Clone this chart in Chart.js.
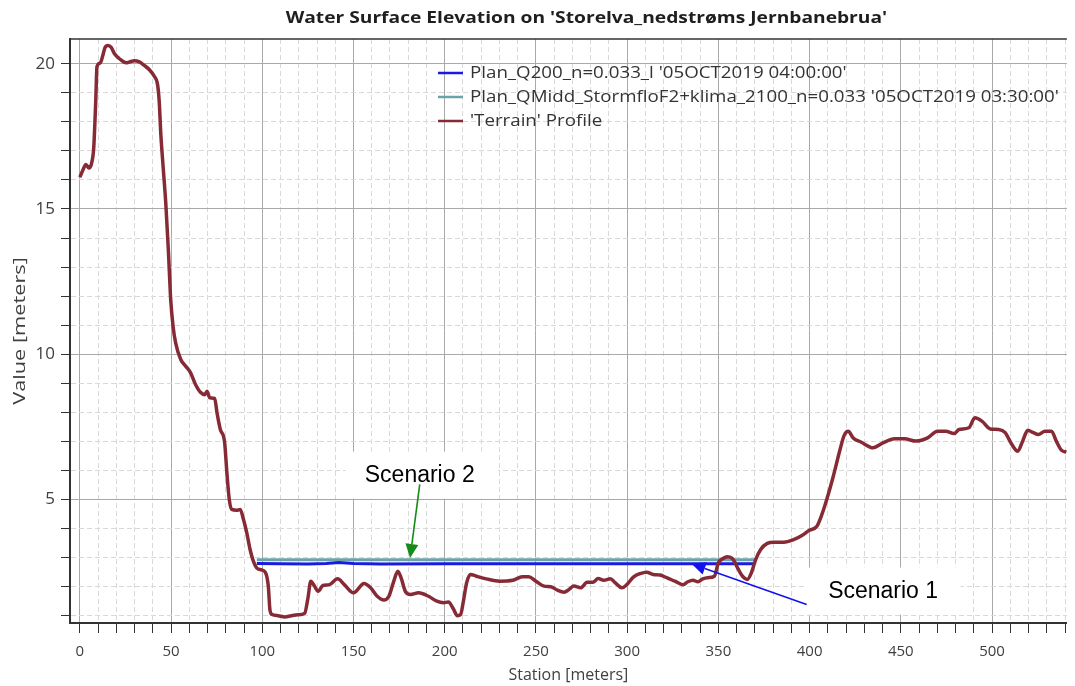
<!DOCTYPE html>
<html>
<head>
<meta charset="utf-8">
<script src="https://cdn.jsdelivr.net/npm/chart.js@4/dist/chart.umd.min.js"></script>
<style>
html,body{margin:0;padding:0;background:#fff;}
#wrap{width:1075px;height:686px;}
</style>
</head>
<body>
<div id="wrap"><canvas id="c" width="1075" height="686"></canvas></div>
<script>
// ---------- data ----------
const chartTitle = "Water Surface Elevation on 'Storelva_nedstrøms Jernbanebrua'";
const seriesLabels = [
  "Plan_Q200_n=0.033_l '05OCT2019 04:00:00'",
  "Plan_QMidd_StormfloF2+klima_2100_n=0.033 '05OCT2019 03:30:00'",
  "'Terrain' Profile"
];
const xTitle = "Station [meters]";
const yTitle = "Value [meters]";

const q200Station = [97, 110, 125, 135, 142, 150, 165, 200, 250, 300, 350, 370];
const q200Elev    = [2.80, 2.79, 2.78, 2.80, 2.83, 2.80, 2.78, 2.79, 2.79, 2.79, 2.79, 2.79];

const qmiddStation = [97, 150, 200, 250, 300, 350, 370];
const qmiddElev    = [2.93, 2.93, 2.93, 2.93, 2.93, 2.93, 2.93];

const terrainStation = [0, 1.8, 3.3, 5, 6.5, 7.6, 8.7, 9.4, 11.2, 12.7, 13.8, 15.4, 17.2, 19, 21.7, 25.4, 27.2, 29.9, 32.6, 35.3, 38, 40.8, 42.6, 43.5, 44.4, 45.7, 47.1, 48.5, 49.8, 51.1, 52.5, 55.3, 58, 60.7, 63.4, 66.1, 68.5, 69.7, 71.2, 73.9, 75.2, 77, 79.3, 80.6, 81.9, 83.3, 86, 87.9, 89.7, 91.5, 93.3, 95.1, 96.9, 99.6, 101.8, 103.3, 104.2, 105.4, 108.7, 112.3, 115.9, 119.6, 123.2, 125, 126.6, 128.6, 130.6, 133.2, 136.8, 141.3, 145, 150, 155.8, 159.4, 163, 166.7, 169.4, 172.1, 174.3, 176.1, 178.4, 181.2, 185.7, 191.1, 195.7, 199.3, 202, 204.7, 206.9, 208.7, 210.1, 212, 214.1, 217.4, 222.8, 230.1, 237.3, 242.5, 246, 250, 254.5, 258.2, 261.8, 265.4, 268.1, 270.8, 274.5, 278.1, 281.2, 284.1, 287.1, 290.8, 293.5, 297.1, 299.8, 303.4, 307.1, 310.7, 314.3, 318, 321.6, 326.1, 330.6, 333.3, 336.1, 338.8, 341.5, 344.2, 347.8, 350, 352.3, 355.1, 357.8, 360.5, 363.2, 365.9, 368.1, 370.5, 373.2, 376.8, 380.4, 385.9, 391.3, 395.8, 399.5, 404, 406.7, 409.4, 413, 416.7, 418.9, 421.2, 423.9, 428.4, 434.8, 440.2, 446.6, 452, 458.3, 464.7, 470.1, 474.6, 479.2, 481.9, 487.3, 490.6, 494.6, 499.1, 503.6, 507.2, 510.9, 514.1, 516.7, 519.6, 522.7, 525.4, 529, 532.6, 535.3, 538, 540.8];
const terrainElev = [16.09, 16.36, 16.53, 16.41, 16.59, 17.1, 18.7, 19.9, 20.03, 20.31, 20.56, 20.63, 20.56, 20.34, 20.17, 20.03, 20.06, 20.1, 20.06, 19.94, 19.8, 19.57, 19.28, 18.7, 17.56, 16.41, 15.2, 13.6, 11.88, 10.96, 10.39, 9.82, 9.59, 9.36, 8.96, 8.69, 8.61, 8.73, 8.5, 8.48, 7.98, 7.41, 7.0, 5.92, 5.0, 4.66, 4.63, 4.66, 4.31, 3.85, 3.28, 2.88, 2.65, 2.58, 2.48, 2.02, 1.2, 1.04, 1.0, 0.96, 1.0, 1.03, 1.08, 1.6, 2.19, 2.02, 1.84, 2.04, 2.07, 2.27, 2.07, 1.79, 2.11, 1.96, 1.67, 1.54, 1.67, 2.19, 2.53, 2.3, 1.84, 1.73, 1.79, 1.67, 1.5, 1.45, 1.47, 1.24, 1.0, 1.04, 1.45, 2.13, 2.42, 2.36, 2.27, 2.19, 2.22, 2.34, 2.34, 2.19, 2.02, 2.0, 1.88, 1.81, 1.9, 2.02, 1.96, 2.15, 2.15, 2.28, 2.22, 2.27, 2.13, 1.96, 2.07, 2.33, 2.45, 2.5, 2.42, 2.4, 2.31, 2.19, 2.07, 2.17, 2.22, 2.17, 2.27, 2.31, 2.36, 2.82, 2.96, 3.03, 2.96, 2.65, 2.36, 2.25, 2.48, 2.94, 3.28, 3.49, 3.53, 3.53, 3.62, 3.76, 3.93, 4.08, 4.48, 5.0, 5.8, 6.72, 7.2, 7.35, 7.12, 6.97, 6.78, 6.95, 7.09, 7.09, 7.01, 7.12, 7.35, 7.35, 7.27, 7.41, 7.47, 7.81, 7.69, 7.43, 7.41, 7.3, 6.89, 6.66, 7.0, 7.38, 7.3, 7.24, 7.35, 7.35, 7.0, 6.7, 6.63];

const xMajorTickLabels = [0, 50, 100, 150, 200, 250, 300, 350, 400, 450, 500];
const yMajorTickLabels = [5, 10, 15, 20];
const annotationLabels = ["Scenario 2", "Scenario 1"];

// ---------- helpers / styling ----------
const toXY = (xs, ys) => xs.map((x, i) => ({x: x, y: ys[i]}));
const X_MIN = -5.4, X_MAX = 541, X_STEP = 10;
const Y_MIN = 0.75, Y_MAX = 20.85, Y_STEP = 1;
const isMajorX = v => xMajorTickLabels.includes(v);
const isMajorY = v => yMajorTickLabels.includes(v);
const UI_FONT = '"Open Sans", "Noto Sans", sans-serif';

// annotation placement in data units (station, elevation)
const annotationSpecs = [
  {label: annotationLabels[0], box: [145.7, 6.65, 229.3, 5.03], textAt: [186.3, 5.83], from: [186.3, 5.52], to: [181.0, 2.99], color: '#178a17'},
  {label: annotationLabels[1], box: [398.4, 2.66, 482.6, 1.04], textAt: [440.3, 1.83], from: [398.4, 1.39], to: [335.3, 2.79], color: '#1212ee'}
];

function stretchedText(ctx, text, x, y, sx, rot) {
  ctx.save();
  ctx.translate(x, y);
  if (rot) ctx.rotate(rot);
  ctx.scale(sx, 1);
  ctx.fillText(text, 0, 0);
  ctx.restore();
}

const extrasPlugin = {
  id: 'extras',
  afterDatasetsDraw(chart) {
    const ctx = chart.ctx, xs = chart.scales.x, ys = chart.scales.y;
    const px = (a) => ({x: xs.getPixelForValue(a[0]), y: ys.getPixelForValue(a[1])});
    ctx.save();
    annotationSpecs.forEach(a => {
      const p1 = px([a.box[0], a.box[1]]), p2 = px([a.box[2], a.box[3]]);
      ctx.fillStyle = '#ffffff';
      ctx.fillRect(p1.x, p1.y, p2.x - p1.x, p2.y - p1.y);
      const t = px(a.textAt);
      ctx.fillStyle = '#000000';
      ctx.font = '23px "Liberation Sans", Arial, sans-serif';
      ctx.textAlign = 'center';
      ctx.textBaseline = 'middle';
      ctx.fillText(a.label, t.x, t.y);
      // arrow
      const s = px(a.from), e = px(a.to);
      const ang = Math.atan2(e.y - s.y, e.x - s.x);
      const hl = 14, hw = 6.5;
      const bx = e.x - hl * Math.cos(ang), by = e.y - hl * Math.sin(ang);
      ctx.strokeStyle = a.color; ctx.fillStyle = a.color; ctx.lineWidth = 1.6;
      ctx.beginPath(); ctx.moveTo(s.x, s.y); ctx.lineTo(bx, by); ctx.stroke();
      ctx.beginPath();
      ctx.moveTo(e.x, e.y);
      ctx.lineTo(bx + hw * Math.sin(ang), by - hw * Math.cos(ang));
      ctx.lineTo(bx - hw * Math.sin(ang), by + hw * Math.cos(ang));
      ctx.closePath(); ctx.fill();
    });
    ctx.restore();
  },
  afterDraw(chart) {
    const ctx = chart.ctx, area = chart.chartArea;
    ctx.save();
    // top frame line
    ctx.strokeStyle = '#333'; ctx.lineWidth = 1.5;
    ctx.beginPath(); ctx.moveTo(area.left, area.top); ctx.lineTo(area.right, area.top); ctx.stroke();
    // title
    ctx.fillStyle = '#1e1e1e';
    ctx.font = 'bold 16px ' + UI_FONT;
    ctx.textAlign = 'center'; ctx.textBaseline = 'middle';
    stretchedText(ctx, chartTitle, (area.left + area.right) / 2 + 18, 18, 1.2, 0);
    // y axis title
    ctx.fillStyle = '#404040';
    ctx.font = '17px ' + UI_FONT;
    stretchedText(ctx, yTitle, 20, (area.top + area.bottom) / 2, 1.28, -Math.PI / 2);
    // legend (inside plot)
    const lx = area.left + 368, ly = area.top + 34, rowH = 24;
    chart.data.datasets.forEach((ds, i) => {
      const y = ly + i * rowH;
      ctx.strokeStyle = ds.borderColor; ctx.lineWidth = 2.5;
      ctx.beginPath(); ctx.moveTo(lx, y); ctx.lineTo(lx + 25, y); ctx.stroke();
      ctx.fillStyle = '#333';
      ctx.font = '16px ' + UI_FONT;
      ctx.textAlign = 'left'; ctx.textBaseline = 'middle';
      stretchedText(ctx, ds.label, lx + 32, y, 1.17, 0);
    });
    ctx.restore();
  }
};

const chart = new Chart(document.getElementById('c'), {
  type: 'line',
  data: {
    datasets: [
      {label: seriesLabels[0], data: toXY(q200Station, q200Elev), borderColor: '#1a1ae0', borderWidth: 3, pointRadius: 0, order: 2},
      {label: seriesLabels[1], data: toXY(qmiddStation, qmiddElev), borderColor: '#6aa3a8', borderWidth: 3, pointRadius: 0, order: 3},
      {label: seriesLabels[2], data: toXY(terrainStation, terrainElev), borderColor: '#862b36', borderWidth: 3.5, pointRadius: 0, order: 1, cubicInterpolationMode: 'monotone'}
    ]
  },
  options: {
    responsive: false,
    animation: false,
    events: [],
    layout: {padding: {top: 39, left: 0, right: 0, bottom: 0}},
    plugins: {legend: {display: false}, tooltip: {enabled: false}, title: {display: false}},
    scales: {
      x: {
        type: 'linear', min: X_MIN, max: X_MAX,
        afterFit: s => { s.height = 63; },
        afterBuildTicks: s => { const t = []; for (let v = 0; v <= X_MAX; v += X_STEP) t.push({value: v}); s.ticks = t; },
        ticks: {autoSkip: false, maxRotation: 0, padding: 10, color: '#404040',
          font: {family: UI_FONT, size: 15},
          callback: v => isMajorX(v) ? String(v) : ''},
        grid: {
          color: c => (c.tick && isMajorX(c.tick.value)) ? '#a9a9a9' : '#d9d9d9',
          lineWidth: 1, tickLength: 10, tickColor: '#333'
        },
        border: {color: '#333', width: 2, dash: c => (c.tick && !isMajorX(c.tick.value)) ? [5, 3] : []},
        title: {display: true, text: xTitle, color: '#404040', padding: {top: 0, bottom: 1},
          font: {family: UI_FONT, size: 16}}
      },
      y: {
        type: 'linear', min: Y_MIN, max: Y_MAX,
        afterFit: s => { s.width = 70; },
        afterBuildTicks: s => { const t = []; for (let v = 1; v <= 20; v += Y_STEP) t.push({value: v}); s.ticks = t; },
        ticks: {autoSkip: false, padding: 6, color: '#404040',
          font: {family: UI_FONT, size: 17},
          callback: v => isMajorY(v) ? String(v) : ''},
        grid: {
          color: c => (c.tick && isMajorY(c.tick.value)) ? '#a9a9a9' : '#d9d9d9',
          lineWidth: 1, tickLength: 9, tickColor: '#333'
        },
        border: {color: '#333', width: 2, dash: c => (c.tick && !isMajorY(c.tick.value)) ? [5, 3] : []},
        title: {display: false, text: yTitle}
      }
    }
  },
  plugins: [extrasPlugin]
});
</script>
</body>
</html>
